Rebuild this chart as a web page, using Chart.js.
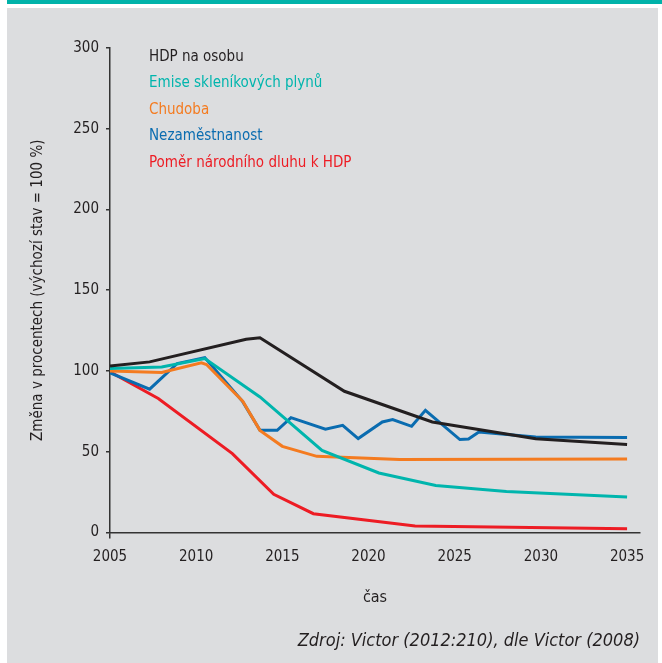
<!DOCTYPE html>
<html>
<head>
<meta charset="utf-8">
<script src="https://cdn.jsdelivr.net/npm/chart.js@4"></script>
<style>
  body { margin: 0; background: #fff; width: 662px; height: 663px; position: relative; overflow: hidden; }
  #bar { position: absolute; left: 7px; top: 0; width: 655px; height: 4px; background: #00b2a9; }
  #panel { position: absolute; left: 7px; top: 8px; width: 651px; height: 655px; background: #dcdddf; }
</style>
</head>
<body>
<div id="bar"></div>
<div id="panel"><canvas id="myChart" width="651" height="655"></canvas></div>
<script>
// data (years are x positions, values are % of 2005)
const hdpYears = [2005, 2007.3, 2012.9, 2013.7, 2018.6, 2023.7, 2029.7, 2035];
const hdpValues = [103, 105.6, 119.6, 120.5, 87.4, 68.4, 58, 54.5];

const emiseYears = [2005, 2008, 2010.5, 2013.7, 2017.3, 2020.6, 2023.9, 2028, 2035];
const emiseValues = [101.5, 102.4, 107.7, 83.9, 50.8, 36.8, 29.1, 25.4, 21.9];

const chudobaYears = [2005, 2008, 2010.3, 2010.6, 2012.7, 2013.7, 2015, 2017, 2021.8, 2035];
const chudobaValues = [100, 99, 105, 104, 81.2, 63.2, 53.3, 47.1, 45.2, 45.4];

const nezamYears = [2005, 2007.3, 2008.9, 2010.5, 2012.7, 2013.7, 2014.7, 2015.5, 2017.5, 2018.5,
  2019.4, 2020.8, 2021.4, 2022.5, 2023.3, 2025.3, 2025.8, 2026.4, 2029.7, 2035];
const nezamValues = [98.8, 88.7, 104.6, 108.3, 81, 63.2, 63.2, 71.1, 63.9, 66.3,
  58.1, 68.4, 69.9, 65.7, 75.6, 57.5, 57.8, 62.2, 59.1, 58.7];

const dluhYears = [2005, 2007.8, 2012.1, 2014.5, 2016.8, 2022.7, 2035];
const dluhValues = [99.4, 82.9, 48.8, 23.6, 11.6, 3.9, 2.3];

const seriesLabels = ["HDP na osobu", "Emise skleníkových plynů", "Chudoba", "Nezaměstnanost", "Poměr národního dluhu k HDP"];
const seriesColors = ["#231f20", "#00b5ad", "#f47b20", "#0a6cb0", "#ed1c24"];

const xTicks = [2005, 2010, 2015, 2020, 2025, 2030, 2035];
const yTicks = [0, 50, 100, 150, 200, 250, 300];

const FONT = "'Liberation Sans Narrow', 'DejaVu Sans Condensed', sans-serif";
Chart.defaults.font.family = FONT;
Chart.defaults.font.size = 15;
Chart.defaults.color = "#231f20";

function pairs(xs, ys) {
  return xs.map((x, i) => ({ x: x, y: ys[i] }));
}

const allSeries = [
  pairs(hdpYears, hdpValues),
  pairs(emiseYears, emiseValues),
  pairs(chudobaYears, chudobaValues),
  pairs(nezamYears, nezamValues),
  pairs(dluhYears, dluhValues),
];

// legend drawn as plain coloured text in the top left of the plot
const textLegend = {
  id: "textLegend",
  afterDraw(chart) {
    const c = chart.ctx;
    c.save();
    c.font = "15px " + FONT;
    c.textBaseline = "middle";
    chart.data.datasets.forEach((ds, i) => {
      c.fillStyle = ds.borderColor;
      c.fillText(ds.label, 142, 49 + i * 26.5);
    });
    c.restore();
  }
};

const ctx = document.getElementById("myChart");
new Chart(ctx, {
  type: "line",
  data: {
    datasets: allSeries.map((d, i) => ({
      label: seriesLabels[i],
      data: d,
      borderColor: seriesColors[i],
      backgroundColor: seriesColors[i],
      borderWidth: 3,
      pointRadius: 0,
      tension: 0,
      fill: false,
    })),
  },
  options: {
    responsive: false,
    animation: false,
    layout: { padding: { top: 40, right: 18, left: 0, bottom: 0 } },
    plugins: {
      legend: { display: false },
      tooltip: { enabled: false },
      subtitle: {
        display: true,
        text: "Zdroj: Victor (2012:210), dle Victor (2008)",
        position: "bottom",
        align: "end",
        color: "#231f20",
        font: { size: 18, style: "italic" },
        padding: { top: 0, bottom: 11 },
      },
    },
    scales: {
      x: {
        type: "linear",
        min: 2005,
        max: 2035.75,
        afterBuildTicks: (s) => { s.ticks = xTicks.map((v) => ({ value: v })); },
        afterFit: (s) => { s.height = 98; },
        ticks: { padding: 10, font: { size: 15 }, callback: (v) => String(v) },
        grid: {
          drawOnChartArea: false,
          tickLength: 6,
          lineWidth: 1.5,
          color: (c) => (c.tick && c.tick.value === 2005 ? "#333" : "rgba(0,0,0,0)"),
        },
        border: { color: "#333", width: 1.5 },
        title: { display: true, text: "čas", font: { size: 16 }, padding: { top: 0, bottom: 23 } },
      },
      y: {
        min: 0,
        max: 300,
        afterBuildTicks: (s) => { s.ticks = yTicks.map((v) => ({ value: v })); },
        afterFit: (s) => { s.width = 103; },
        ticks: { padding: 7, font: { size: 15 } },
        grid: { drawOnChartArea: false, tickLength: 4, lineWidth: 1.5, color: "#333" },
        border: { color: "#333", width: 1.5 },
        title: {
          display: true,
          text: "Změna v procentech (výchozí stav = 100 %)",
          font: { size: 15 },
          padding: { top: 22, bottom: 0 },
        },
      },
    },
  },
  plugins: [textLegend],
});
</script>
</body>
</html>
